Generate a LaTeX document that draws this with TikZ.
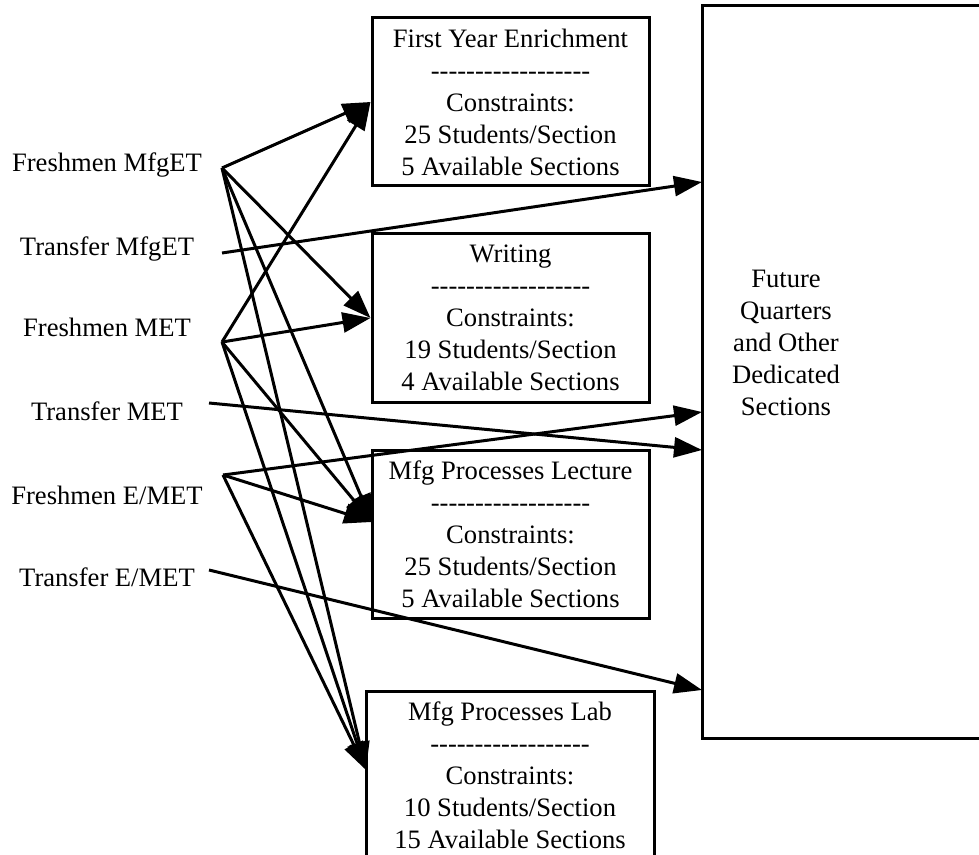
\documentclass[tikz,border=0pt]{standalone}
\usepackage{fontspec}
\setmainfont{Liberation Serif}[Ligatures=TeXOff]
\usetikzlibrary{arrows.meta,positioning,calc}
\newcommand{\sectdash}{------------------}
\tikzset{
  course/.style={draw, line width=1.5pt, align=center, minimum width=#1, minimum height=84pt, inner sep=2pt, font=\fontsize{13.3}{16}\selectfont},
  course/.default=138.5pt,
  src/.style={anchor=base, inner sep=0pt, font=\fontsize{13.3}{16}\selectfont},
  flow/.style={-{Triangle[length=14pt,width=10pt]}, line width=1.5pt},
  pool/.style={draw, line width=1.5pt, minimum width=149pt, minimum height=366pt, inner sep=0pt},
}

\begin{document}
\begin{tikzpicture}[x=0.5pt, y=-0.5pt]
  \useasboundingbox (0,0) rectangle (979,855);
  % student groups
  \node[src] (fmfg) at (107,172) {Freshmen MfgET};
  \node[src] (tmfg) at (107,256) {Transfer MfgET};
  \node[src] (fmet) at (107,337) {Freshmen MET};
  \node[src] (tmet) at (107,421) {Transfer MET};
  \node[src] (femet) at (107,504) {Freshmen E/MET};
  \node[src] (temet) at (107,586) {Transfer E/MET};
  \coordinate (fmfg-out) at (222,168);
  \coordinate (tmfg-out) at (222,253);
  \coordinate (fmet-out) at (222,342);
  \coordinate (tmet-out) at (209,403);
  \coordinate (femet-out) at (223,475);
  \coordinate (temet-out) at (209,570);
  % courses
  \node[course] (fye) at (510.5,102) {First Year Enrichment\\\sectdash\\Constraints:\\25 Students/Section\\5 Available Sections};
  \node[course] (wri) at (510.5,318) {Writing\\\sectdash\\Constraints:\\19 Students/Section\\4 Available Sections};
  \node[course] (lec) at (510.5,534.5) {Mfg Processes Lecture\\\sectdash\\Constraints:\\25 Students/Section\\5 Available Sections};
  \node[course=144pt] (lab) at (510,775) {Mfg Processes Lab\\\sectdash\\Constraints:\\10 Students/Section\\15 Available Sections};
  \coordinate (lec-in) at (372,522);
  \coordinate (lab-in) at (366,770);
  % future quarters
  \node[pool] (future) at (851,372) {};
  \node[align=center, font=\fontsize{13.3}{16}\selectfont] (future-lbl) at (786,343) {Future\\Quarters\\and Other\\Dedicated\\Sections};
  \coordinate (future-a) at (702,182);
  \coordinate (future-b) at (702,412);
  \coordinate (future-c) at (702,450);
  \coordinate (future-d) at (702,690);
  % flows
  \foreach \a/\b in {fmfg-out/fye.west, fmfg-out/wri.west, fmfg-out/lec-in, fmfg-out/lab-in,
                     fmet-out/fye.west, fmet-out/wri.west, fmet-out/lec-in, fmet-out/lab-in,
                     femet-out/future-b, femet-out/lec-in, femet-out/lab-in,
                     tmfg-out/future-a, tmet-out/future-c, temet-out/future-d}
    \draw[flow] (\a) -- (\b);
\end{tikzpicture}
\end{document}
